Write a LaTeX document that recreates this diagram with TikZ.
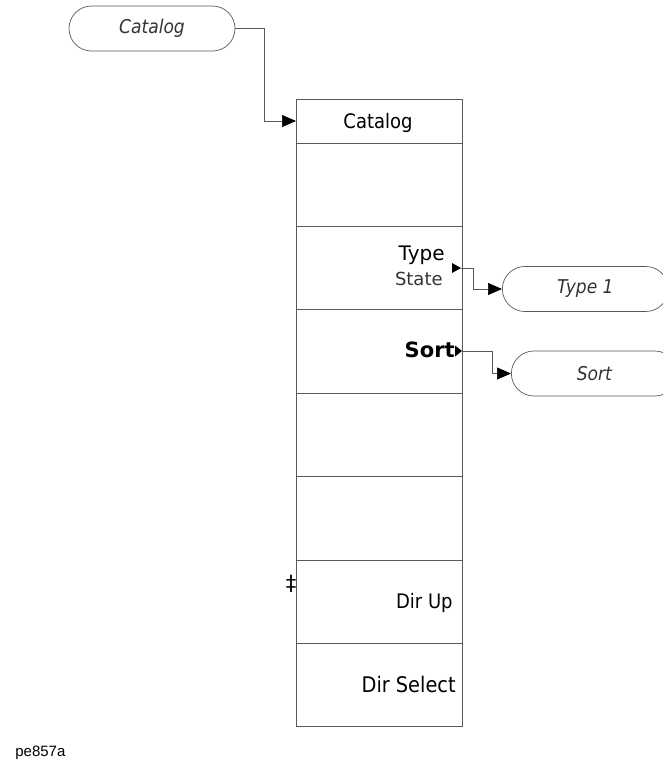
\documentclass[tikz,border=0pt]{standalone}
\usepackage{fontspec}
\setmainfont{DejaVu Sans}
\newfontfamily\condfont{DejaVu Sans Condensed}
\newfontfamily\lblfont{Liberation Sans}
\usetikzlibrary{arrows.meta,shapes.misc}
\newcommand{\fsz}[1]{\fontsize{#1}{#1}\selectfont}
\begin{document}
\begin{tikzpicture}[x=1pt,y=-1pt,
  line width=0.7pt,
  cell/.style={draw=black!65, minimum width=166pt, inner sep=0pt, outer sep=0pt},
  oval/.style={draw=black!65, rounded rectangle, minimum width=166pt, minimum height=45pt, inner sep=0pt, font=\condfont\itshape\fsz{19}, text=black!80},
  keytxt/.style={inner sep=0pt, anchor=base east, font=\condfont\fsz{20}},
  conn/.style={draw=black!65, line width=0.7pt},
  arr/.style={conn, -{Triangle[length=14pt,width=12pt,color=black]}},
  tri/.style={fill=black, draw=none}
]
\useasboundingbox (0,0) rectangle (663,771);
% menu box
\node[cell, minimum height=44pt, anchor=north west] (head) at (296,99) {};
\node[cell, minimum height=83pt, anchor=north west] (r1) at (296,143) {};
\node[cell, minimum height=83pt, anchor=north west] (r2) at (296,226) {};
\node[cell, minimum height=84pt, anchor=north west] (r3) at (296,309) {};
\node[cell, minimum height=83pt, anchor=north west] (r4) at (296,393) {};
\node[cell, minimum height=84pt, anchor=north west] (r5) at (296,476) {};
\node[cell, minimum height=83pt, anchor=north west] (r6) at (296,560) {};
\node[cell, minimum height=83pt, anchor=north west] (r7) at (296,643) {};
% texts
\node[inner sep=0pt, anchor=base, font=\condfont\fsz{20}] (thead) at (378,128) {Catalog};
\node[keytxt, font=\fsz{20}] (ttype) at (445,260) {Type};
\node[keytxt, font=\fsz{18}, text=black!80] (tstate) at (443,285) {State};
\node[keytxt, font=\bfseries\fsz{21}] (tsort) at (455,357) {Sort};
\node[keytxt] (tdirup) at (453,608) {Dir Up};
\node[keytxt, font=\condfont\fsz{21.5}] (tdirsel) at (456,692) {Dir Select};
\node[inner sep=0pt, font=\fsz{21}] (dag) at (291,584) {‡};
% small triangles
\coordinate (ttip) at (461,268);
\coordinate (stip) at (462,351);
\fill[tri] (452,263) -- (ttip) -- (452,273) -- cycle;
\fill[tri] (455,345.5) -- (stip) -- (455,356.5) -- cycle;
% ovals
\node[oval] (ocat) at (152,28.5) {Catalog};
\node[oval, anchor=west] (otype) at (502,289) {Type 1};
\node[oval, anchor=west] (osort) at (511,373.5) {Sort};
% connectors
\coordinate (c1) at (264,28.5);
\coordinate (c2) at (264,121);
\draw[arr] (ocat.east) -- (c1) -- (c2) -- (head.west);
\coordinate (t1) at (473,268);
\coordinate (t2) at (473,289);
\draw[arr] (ttip) -- (t1) -- (t2) -- (otype.west);
\coordinate (s1) at (492,351);
\coordinate (s2) at (492,373.5);
\draw[arr] (stip) -- (s1) -- (s2) -- (osort.west);
% footer
\node[inner sep=0pt, anchor=west, font=\lblfont\fsz{15}] (pe) at (15,753) {pe857a};
\end{tikzpicture}
\end{document}
